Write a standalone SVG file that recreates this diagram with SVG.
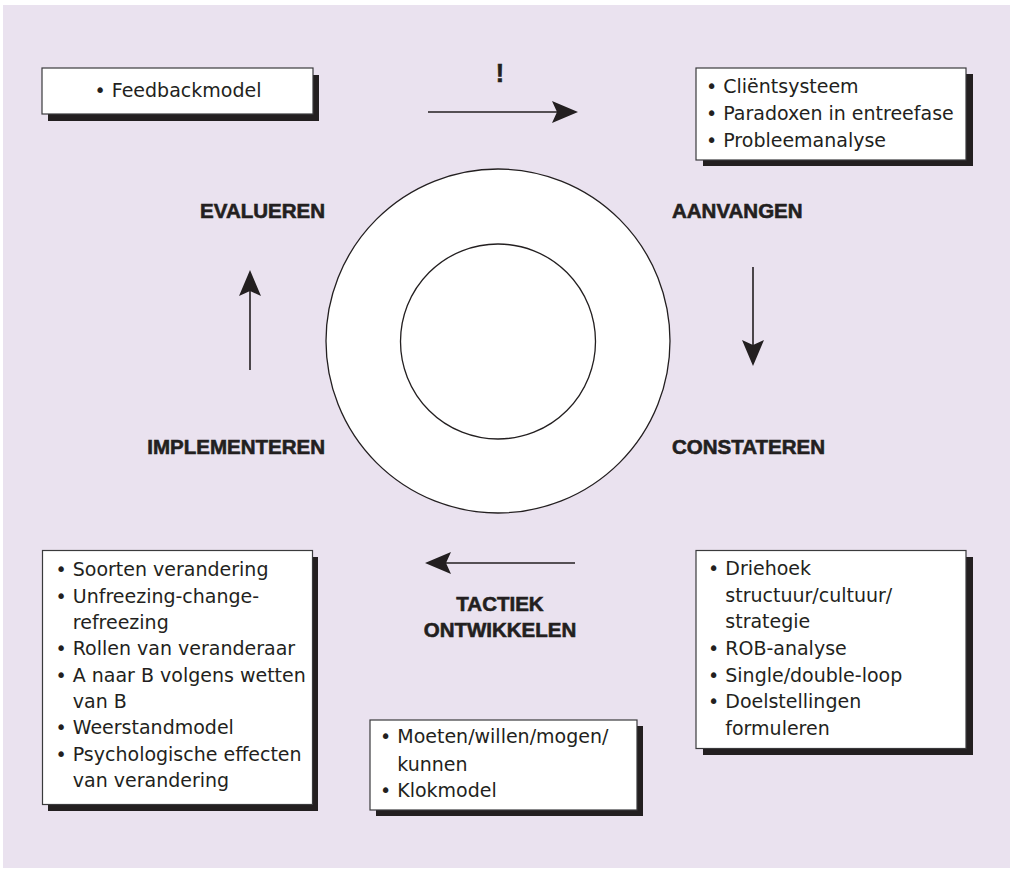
<svg xmlns="http://www.w3.org/2000/svg" width="1013" height="874" viewBox="0 0 1013 874">
<style>
.bg{fill:#EAE2EF}
.box{fill:#fff;stroke:#3a3a3c;stroke-width:1.2}
.sh{fill:#231f20}
.t{font-family:"DejaVu Sans","Liberation Sans",sans-serif;font-size:19px;fill:#231f20}
.h{font-family:"Liberation Sans","DejaVu Sans",sans-serif;font-size:20.5px;font-weight:bold;fill:#231f20;stroke:#231f20;stroke-width:0.6}
.ring{fill:#fff;stroke:#231f20;stroke-width:1.3}
.arr{stroke:#231f20;stroke-width:1.6;fill:none;marker-end:url(#ah)}
</style>
<defs>
<marker id="ah" markerUnits="userSpaceOnUse" viewBox="-27 -12 28 24" markerWidth="28" markerHeight="24" refX="-21" refY="0" orient="auto">
<path d="M0,0 L-26,-11 L-21,0 L-26,11 Z" fill="#231f20"/>
</marker>
</defs>
<rect class="bg" x="3" y="5" width="1007" height="863"/>

<g id="circle">
<circle class="ring" cx="498" cy="341" r="172"/>
<circle class="ring" cx="498" cy="341.5" r="97.5"/>
</g>

<g id="connectors">
<line class="arr" x1="428" y1="112" x2="557" y2="112"/>
<line class="arr" x1="753" y1="267" x2="753" y2="345"/>
<line class="arr" x1="575" y1="563" x2="446" y2="563"/>
<line class="arr" x1="250" y1="370" x2="250" y2="291"/>
</g>

<g id="exclaim">
<text class="h" x="500" y="82" text-anchor="middle" style="font-size:25px">!</text>
</g>

<g id="evalueren"><text class="h" x="325" y="218" text-anchor="end">EVALUEREN</text></g>
<g id="aanvangen"><text class="h" x="672" y="218">AANVANGEN</text></g>
<g id="constateren"><text class="h" x="672" y="454">CONSTATEREN</text></g>
<g id="implementeren"><text class="h" x="325" y="454" text-anchor="end">IMPLEMENTEREN</text></g>
<g id="tactiek"><text class="h" x="500" text-anchor="middle"><tspan x="500" y="611">TACTIEK</tspan><tspan x="500" y="637">ONTWIKKELEN</tspan></text></g>

<g id="box-feedback">
<rect class="sh" x="48" y="75" width="271" height="46"/>
<rect class="box" x="42" y="68" width="271" height="46"/>
<text class="t" x="178" y="97" text-anchor="middle">• Feedbackmodel</text>
</g>

<g id="box-aanvangen">
<rect class="sh" x="703" y="74" width="270" height="92"/>
<rect class="box" x="696" y="68" width="270" height="92"/>
<text class="t"><tspan x="706" y="93">• Cliëntsysteem</tspan><tspan x="706" y="120">• Paradoxen in entreefase</tspan><tspan x="706" y="147">• Probleemanalyse</tspan></text>
</g>

<g id="box-implementeren">
<rect class="sh" x="48" y="557" width="270" height="254"/>
<rect class="box" x="42.5" y="550.5" width="270" height="254"/>
<text class="t"><tspan x="55.5" y="576">• Soorten verandering</tspan><tspan x="55.5" y="603">• Unfreezing-change-</tspan><tspan x="72.8" y="629">refreezing</tspan><tspan x="55.5" y="655">• Rollen van veranderaar</tspan><tspan x="55.5" y="682">• A naar B volgens wetten</tspan><tspan x="72.8" y="708">van B</tspan><tspan x="55.5" y="734">• Weerstandmodel</tspan><tspan x="55.5" y="761">• Psychologische effecten</tspan><tspan x="72.8" y="787">van verandering</tspan></text>
</g>

<g id="box-constateren">
<rect class="sh" x="703" y="557" width="270" height="198"/>
<rect class="box" x="696" y="550.5" width="270" height="198"/>
<text class="t"><tspan x="708" y="575">• Driehoek</tspan><tspan x="725.3" y="602">structuur/cultuur/</tspan><tspan x="725.3" y="628">strategie</tspan><tspan x="708" y="655">• ROB-analyse</tspan><tspan x="708" y="682">• Single/double-loop</tspan><tspan x="708" y="708">• Doelstellingen</tspan><tspan x="725.3" y="735">formuleren</tspan></text>
</g>

<g id="box-tactiek">
<rect class="sh" x="376" y="726" width="267" height="90"/>
<rect class="box" x="370" y="720" width="267" height="90"/>
<text class="t"><tspan x="380" y="743">• Moeten/willen/mogen/</tspan><tspan x="397.3" y="771">kunnen</tspan><tspan x="380" y="797">• Klokmodel</tspan></text>
</g>
</svg>
